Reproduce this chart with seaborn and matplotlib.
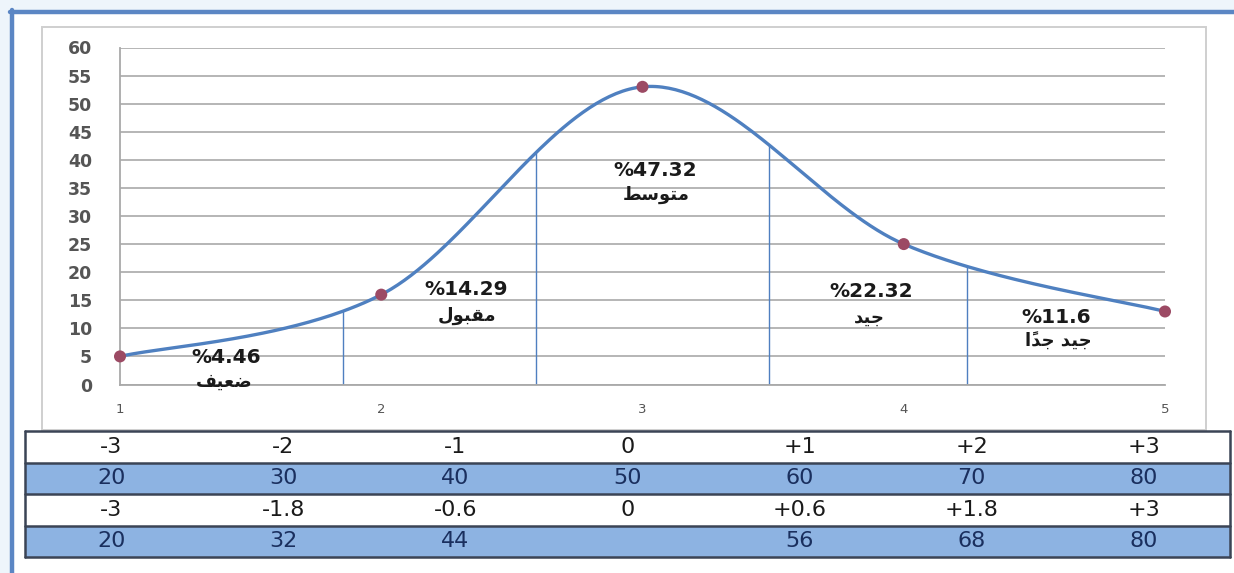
import numpy as np
import pandas as pd
import matplotlib
matplotlib.use("Agg")
import matplotlib.pyplot as plt
from matplotlib.colors import ListedColormap
from matplotlib.lines import Line2D
from matplotlib.patches import Rectangle
import seaborn as sns

# ---------------- data ----------------
x_vals = [1, 2, 3, 4, 5]
y_vals = [5, 16, 53, 25, 13]
cut_x = [1.854, 2.592, 3.484, 4.242]
pct_labels = ["%4.46", "%14.29", "%47.32", "%22.32", "%11.6"]
grade_labels = ["ضعيف", "مقبول", "متوسط", "جيد", "جيد جداً"]
y_ticks = [0, 5, 10, 15, 20, 25, 30, 35, 40, 45, 50, 55, 60]
x_ticks = [1, 2, 3, 4, 5]
row_z1 = ["-3", "-2", "-1", "0", "+1", "+2", "+3"]
row_t1 = ["20", "30", "40", "50", "60", "70", "80"]
row_z2 = ["-3", "-1.8", "-0.6", "0", "+0.6", "+1.8", "+3"]
row_t2 = ["20", "32", "44", "", "56", "68", "80"]

# ---------------- Arabic shaping (presentation forms, visual order) ----------------
AR_FORMS = {
    'ا': (0xFE8D, 0xFE8E, None, None),
    'أ': (0xFE83, 0xFE84, None, None),
    'ب': (0xFE8F, 0xFE90, 0xFE91, 0xFE92),
    'ت': (0xFE95, 0xFE96, 0xFE97, 0xFE98),
    'ج': (0xFE9D, 0xFE9E, 0xFE9F, 0xFEA0),
    'د': (0xFEA9, 0xFEAA, None, None),
    'س': (0xFEB1, 0xFEB2, 0xFEB3, 0xFEB4),
    'ض': (0xFEBD, 0xFEBE, 0xFEBF, 0xFEC0),
    'ط': (0xFEC1, 0xFEC2, 0xFEC3, 0xFEC4),
    'ع': (0xFEC9, 0xFECA, 0xFECB, 0xFECC),
    'ف': (0xFED1, 0xFED2, 0xFED3, 0xFED4),
    'ق': (0xFED5, 0xFED6, 0xFED7, 0xFED8),
    'ل': (0xFEDD, 0xFEDE, 0xFEDF, 0xFEE0),
    'م': (0xFEE1, 0xFEE2, 0xFEE3, 0xFEE4),
    'و': (0xFEED, 0xFEEE, None, None),
    'ي': (0xFEF1, 0xFEF2, 0xFEF3, 0xFEF4),
}
MARKS = set('\u064B\u064C\u064D\u064E\u064F\u0650\u0651\u0652')


def shape_ar(text):
    words_out = []
    for word in text.split(' '):
        chars = list(word)
        bases = [i for i, c in enumerate(chars) if c not in MARKS]
        clusters = []
        for k, i in enumerate(bases):
            c = chars[i]
            end = bases[k + 1] if k + 1 < len(bases) else len(chars)
            marks = ''.join(chars[i + 1:end])
            f = AR_FORMS.get(c)
            if f is None:
                clusters.append(c + marks)
                continue
            prev = chars[bases[k - 1]] if k > 0 else None
            nxt = chars[bases[k + 1]] if k + 1 < len(bases) else None
            jp = prev in AR_FORMS and AR_FORMS[prev][2] is not None
            jn = f[2] is not None and nxt in AR_FORMS
            idx = 3 if (jp and jn) else 1 if jp else 2 if jn else 0
            clusters.append(chr(f[idx]) + marks)
        words_out.append(''.join(reversed(clusters)))
    return ' '.join(reversed(words_out))


# ---------------- smooth curve (Excel-like Bezier spline) ----------------
def smooth_curve(xs, ys, n=80):
    P = np.column_stack([xs, ys]).astype(float)
    m = len(P)
    out = []
    for i in range(m - 1):
        p0 = P[i - 1] if i > 0 else P[i]
        p1, p2 = P[i], P[i + 1]
        p3 = P[i + 2] if i + 2 < m else P[i + 1]
        c1 = p1 + (p2 - p0) / 6.0
        c2 = p2 - (p3 - p1) / 6.0
        t = np.linspace(0, 1, n)[:, None]
        seg = ((1 - t) ** 3) * p1 + 3 * ((1 - t) ** 2) * t * c1 + 3 * (1 - t) * t ** 2 * c2 + t ** 3 * p2
        out.append(seg if i == 0 else seg[1:])
    out = np.vstack(out)
    return out[:, 0], out[:, 1]


cx, cy = smooth_curve(x_vals, y_vals)
cut_y = np.interp(cut_x, cx, cy)

# ---------------- figure ----------------
sns.set_style("white")
plt.rcParams['font.family'] = ['DejaVu Sans']

W, H = 1234, 573
fig = plt.figure(figsize=(W / 100, H / 100), dpi=100)
fig.patch.set_facecolor('#eef5fb')


def fx(px):
    return px / W


def fy(py):
    return 1 - py / H


# white inner frame + blue border (left/top)
fig.patches.append(Rectangle((fx(12), 0), 1 - fx(12), fy(12), transform=fig.transFigure,
                             facecolor='white', edgecolor='none', zorder=-5))
fig.lines.append(Line2D([fx(12), fx(12)], [0, fy(10)], transform=fig.transFigure,
                        color='#5b86c4', lw=3.2, zorder=-4))
fig.lines.append(Line2D([fx(10), 1], [fy(12), fy(12)], transform=fig.transFigure,
                        color='#5b86c4', lw=3.2, zorder=-4))
# chart area box
fig.patches.append(Rectangle((fx(42), fy(430)), fx(1206) - fx(42), fy(27) - fy(430),
                             transform=fig.transFigure, facecolor='white',
                             edgecolor='#cfcfcf', lw=1.4, zorder=-3))

# ---------------- main plot ----------------
ax = fig.add_axes([fx(120), fy(384.5), fx(1165) - fx(120), fy(47.5) - fy(384.5)])
ax.set_facecolor('none')
ax.set_xlim(1, 5)
ax.set_ylim(0, 60)
ax.set_yticks(y_ticks)
ax.set_xticks(x_ticks)
ax.yaxis.grid(True, color='#b5b5b5', lw=1.4)
ax.xaxis.grid(False)
ax.set_axisbelow(True)
for s in ['top', 'right']:
    ax.spines[s].set_visible(False)
for s in ['left', 'bottom']:
    ax.spines[s].set_color('#a9a9a9')
    ax.spines[s].set_linewidth(1.3)
ax.tick_params(axis='y', direction='out', length=6, width=1.4, color='#b5b5b5',
               pad=14, labelsize=12.5, labelcolor='#555555')
ax.tick_params(axis='x', direction='out', length=5, width=1.2, color='#a9a9a9',
               pad=8, labelsize=9.5, labelcolor='#555555')
for lab in ax.get_yticklabels():
    lab.set_fontweight('bold')

ax.vlines(cut_x, 0, cut_y, color='#4f7fc0', lw=1.0, zorder=2)

curve_df = pd.DataFrame({'x': cx, 'y': cy})
sns.lineplot(data=curve_df, x='x', y='y', sort=False, estimator=None,
             color='#4f80c0', lw=2.4, ax=ax, zorder=3)
pts_df = pd.DataFrame({'x': x_vals, 'y': y_vals})
sns.scatterplot(data=pts_df, x='x', y='y', s=75, color='#9c4a64', edgecolor='none',
                ax=ax, zorder=4, clip_on=False)
ax.set_xlabel('')
ax.set_ylabel('')

pct_pos = [(1.405, 4.8), (2.326, 16.9), (3.048, 38.1), (3.875, 16.6), (4.585, 11.9)]
grade_pos = [(1.398, 0.5), (2.330, 12.3), (3.052, 33.8), (3.870, 11.9), (4.590, 7.7)]
for (px_, py_), t in zip(pct_pos, pct_labels):
    ax.text(px_, py_, t, ha='center', va='center', fontsize=14.5, fontweight='bold',
            color='#1a1a1a', zorder=5)
for (px_, py_), t in zip(grade_pos, grade_labels):
    ax.text(px_, py_, shape_ar(t), ha='center', va='center', fontsize=13,
            fontweight='bold', color='#1a1a1a', zorder=5)

# ---------------- table (heatmap) ----------------
tax = fig.add_axes([fx(25), fy(557), fx(1230) - fx(25), fy(431) - fy(557)])
rows = [row_z1, row_t1, row_z2, row_t2]
annot = np.array(rows, dtype=object)
shade = np.array([[0] * 7, [1] * 7, [0] * 7, [1] * 7])
sns.heatmap(shade, cmap=ListedColormap(['#ffffff', '#8db3e2']), annot=annot, fmt='',
            cbar=False, ax=tax, annot_kws={'fontsize': 16, 'color': '#1a1a1a'})
for k, t in enumerate(tax.texts):
    r = k // 7
    t.set_color('#1a2f5e' if r % 2 == 1 else '#1a1a1a')
tax.set_xticks([])
tax.set_yticks([])
tax.set_xlabel('')
tax.set_ylabel('')
for r in range(5):
    tax.axhline(r, color='#3b4455', lw=1.8, zorder=5, clip_on=False)
tax.axvline(0, color='#3b4455', lw=1.8, zorder=5, clip_on=False)
tax.axvline(7, color='#3b4455', lw=1.8, zorder=5, clip_on=False)

fig.savefig('out.png', dpi=100, facecolor=fig.get_facecolor())
